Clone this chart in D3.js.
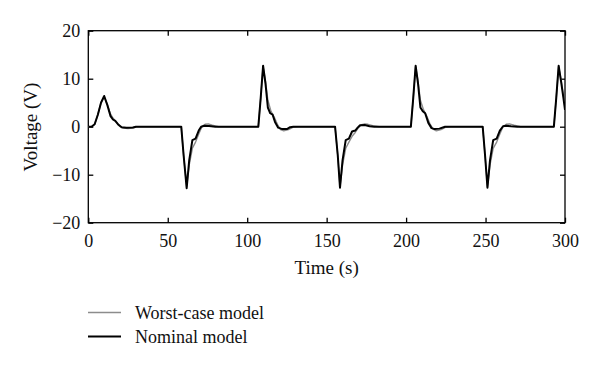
<!DOCTYPE html>
<html><head><meta charset="utf-8">
<script src="https://cdn.jsdelivr.net/npm/d3@7"></script>
<style>body{margin:0;background:#fff}svg{display:block}text{font-family:"Liberation Serif","DejaVu Serif",serif;fill:#111}</style>
</head><body><svg id="c" width="600" height="369"></svg>
<script>
const xTicks=[0,50,100,150,200,250,300];
const yTicks=[-20,-10,0,10,20];
const seriesNames=["Worst-case model","Nominal model"];
const nominalT=[0,2,4,6,8,10,12,14,15.5,17,19,21,24,28,30,
58.5,60,61.9,63.5,65.5,67.5,69.5,71,73,76,80,
107,108.5,110,111.5,113,114.5,116,117.5,119.5,122,125,127,129,
155.3,157,158.4,160,162,164,166,168,169.5,171,174,177,180,
203,204.5,206,207.5,209,210.5,212,214,216,218,221,224.5,
248.2,249.7,251.2,252.8,254.8,257,259,261,263,266,270,
293,294.5,296,297.5,299,300];
const nominalV=[0,0,0.5,2.5,5,6.4,4.5,2.2,1.5,1.2,0.4,-0.1,-0.2,-0.15,0,
0,-6,-12.8,-7,-2.8,-2.5,-0.8,0,0.2,0.15,0,
0,6,12.7,9,4,2.8,2.5,1,-0.2,-0.5,-0.5,-0.1,0,
0,-6,-12.7,-7,-2.8,-2.5,-1.0,-0.8,-0.2,0.3,0.35,0.1,0,
0,6,12.7,9,4,3.2,2.8,0.8,-0.3,-0.5,-0.4,0,
0,-6,-12.7,-7,-2.8,-2.5,-0.8,0.1,0.2,0.1,0,
0,6,12.7,9.5,6,3.5];
const worstT=[0,2,4,6,8,10,12,14,16,18,20,22,25,28,31,
58.5,60,61.9,63.5,65.5,67.5,69.5,71.5,73.5,75.5,78,82,
107,108.5,110,111.5,113,115,117,119,121,123,126,129,132,
155.3,157,158.4,160,162,164,166,168,170,172,174,176,179,183,
203,204.5,206,207.5,209,211,213,215,217,219,222,225,228,
248.2,249.7,251.2,252.8,254.8,257,259,261,263,265,268,272,
293,294.5,296,297.5,299,300];
const worstV=[0,0,0.5,2.5,5,6.2,4.6,2.6,1.6,0.8,0,-0.3,-0.4,-0.3,0,
0,-6,-12.5,-8,-4.5,-3.2,-1.5,0,0.5,0.6,0.3,0,
0,6,12.5,9.5,5.5,3.2,2,0.5,-0.6,-0.85,-0.6,-0.1,0,
0,-6,-12.5,-8,-4.5,-3.2,-2,-1.2,-0.2,0.4,0.6,0.5,0.2,0,
0,6,12.5,9.5,5.5,3.5,2.2,0.6,-0.5,-0.85,-0.6,-0.1,0,
0,-6,-12.5,-8,-4.5,-3.2,-1.5,0,0.5,0.6,0.3,0,
0,6,12.5,9.8,6.5,4];
const colors=["#8c8c8c","#000"];
const widths=[1.4,2];

const svg=d3.select("#c");
const L=88.3,R=565,T=30.7,B=222.7;
const x=d3.scaleLinear().domain([0,300]).range([L,R]);
const y=d3.scaleLinear().domain([-20,20]).range([B,T]);
const fs=18;
svg.append("rect").attr("x",L).attr("y",T).attr("width",R-L).attr("height",B-T).attr("fill","none").attr("stroke","#000").attr("stroke-width",1.3);
const tk=5;
const gx=svg.append("g").attr("transform",`translate(0,${B})`).call(d3.axisBottom(x).tickValues(xTicks).tickSize(-tk).tickPadding(12).tickFormat(d3.format("d")));
const gxt=svg.append("g").attr("transform",`translate(0,${T})`).call(d3.axisTop(x).tickValues(xTicks).tickSize(-tk).tickFormat(""));
const gy=svg.append("g").attr("transform",`translate(${L},0)`).call(d3.axisLeft(y).tickValues(yTicks).tickSize(-tk).tickPadding(8).tickFormat(d=>d<0?"\u2212"+Math.abs(d):d));
const gyr=svg.append("g").attr("transform",`translate(${R},0)`).call(d3.axisRight(y).tickValues(yTicks).tickSize(-tk).tickFormat(""));
[gx,gxt,gy,gyr].forEach(g=>{g.select(".domain").remove();g.selectAll("line").attr("stroke","#000").attr("stroke-width",1.3);g.selectAll("text").attr("font-size",fs).attr("font-family","Liberation Serif").attr("fill","#111");});
const line=d3.line().x(d=>x(d[0])).y(d=>y(d[1]));
const data=[d3.zip(worstT,worstV),d3.zip(nominalT,nominalV)];
svg.append("clipPath").attr("id","cp").append("rect").attr("x",L).attr("y",T).attr("width",R-L).attr("height",B-T);
data.forEach((d,i)=>svg.append("path").datum(d).attr("d",line).attr("fill","none").attr("stroke",colors[i]).attr("stroke-width",widths[i]).attr("stroke-linejoin","round").attr("clip-path","url(#cp)"));
svg.append("text").attr("x",(L+R)/2).attr("y",274).attr("text-anchor","middle").attr("font-size",19).text("Time (s)");
svg.append("text").attr("transform",`translate(37,127) rotate(-90)`).attr("text-anchor","middle").attr("font-size",19).text("Voltage (V)");
const ly=[312.5,336.5];
seriesNames.forEach((n,i)=>{
 svg.append("line").attr("x1",88).attr("x2",121).attr("y1",ly[i]).attr("y2",ly[i]).attr("stroke",colors[i]).attr("stroke-width",widths[i]);
 svg.append("text").attr("x",135).attr("y",ly[i]+6).attr("font-size",18).text(n);
});
</script></body></html>
